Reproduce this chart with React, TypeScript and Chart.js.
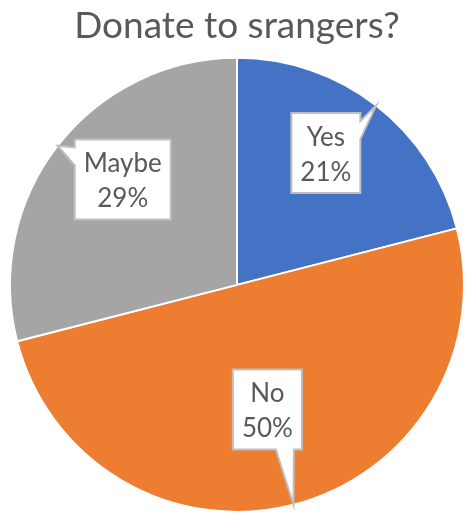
import React, { useEffect, useRef } from "react";
import { Chart, registerables } from "chart.js";

Chart.register(...registerables);

const categories = ["Yes", "No", "Maybe"];
const values = [21, 50, 29];
const percentLabels = ["21%", "50%", "29%"];
const colors = ["#4472C4", "#ED7D31", "#A5A5A5"];
const titleText = "Donate to srangers?";

// callout placement relative to each slice (fraction of radius, angle shift in degrees)
const calloutRadius = [0.7, 0.565, 0.685];
const calloutAngleShift = [-3.8, 0.7, 4.9];

const FONT = "Lato, 'Open Sans', sans-serif";
const LABEL_SIZE = 26;
const TEXT_COLOR = "#595959";

const calloutPlugin = {
  id: "callouts",
  afterDatasetsDraw(chart: any) {
    const ctx = chart.ctx as CanvasRenderingContext2D;
    const meta = chart.getDatasetMeta(0);
    ctx.save();
    ctx.font = `${LABEL_SIZE}px ${FONT}`;
    meta.data.forEach((arc: any, i: number) => {
      const p = arc.getProps(["x", "y", "startAngle", "endAngle", "outerRadius"], true);
      const mid = (p.startAngle + p.endAngle) / 2;
      const tipX = p.x + Math.cos(mid) * p.outerRadius;
      const tipY = p.y + Math.sin(mid) * p.outerRadius;
      const a = mid + (calloutAngleShift[i] * Math.PI) / 180;
      const cx = p.x + Math.cos(a) * p.outerRadius * calloutRadius[i];
      const cy = p.y + Math.sin(a) * p.outerRadius * calloutRadius[i];
      const lines = [categories[i], percentLabels[i]];
      const tw = Math.max(...lines.map((l) => ctx.measureText(l).width));
      const w = tw + 18;
      const h = 80;
      const x0 = cx - w / 2, x1 = cx + w / 2, y0 = cy - h / 2, y1 = cy + h / 2;
      const ndx = (tipX - cx) / (w / 2);
      const ndy = (tipY - cy) / (h / 2);
      let side: string;
      if (Math.abs(ndx) > Math.abs(ndy)) side = ndx > 0 ? "right" : "left";
      else side = ndy > 0 ? "bottom" : "top";
      const BASE = 18;
      const clamp = (v: number, lo: number, hi: number) => Math.max(lo, Math.min(hi, v));
      ctx.beginPath();
      ctx.moveTo(x0, y0);
      if (side === "top") {
        const s = clamp(tipX - BASE / 2, x0 + 8, x1 - 8 - BASE);
        ctx.lineTo(s, y0);
        ctx.lineTo(tipX, tipY);
        ctx.lineTo(s + BASE, y0);
      }
      ctx.lineTo(x1, y0);
      if (side === "right") {
        const s = clamp(tipY - BASE / 2, y0 + 8, y1 - 8 - BASE);
        ctx.lineTo(x1, s);
        ctx.lineTo(tipX, tipY);
        ctx.lineTo(x1, s + BASE);
      }
      ctx.lineTo(x1, y1);
      if (side === "bottom") {
        const s = clamp(tipX - BASE / 2, x0 + 8, x1 - 8 - BASE);
        ctx.lineTo(s + BASE, y1);
        ctx.lineTo(tipX, tipY);
        ctx.lineTo(s, y1);
      }
      ctx.lineTo(x0, y1);
      if (side === "left") {
        const s = clamp(tipY - BASE / 2, y0 + 8, y1 - 8 - BASE);
        ctx.lineTo(x0, s + BASE);
        ctx.lineTo(tipX, tipY);
        ctx.lineTo(x0, s);
      }
      ctx.closePath();
      ctx.fillStyle = "#FFFFFF";
      ctx.fill();
      ctx.lineWidth = 2;
      ctx.strokeStyle = "#BFBFBF";
      ctx.lineJoin = "miter";
      ctx.stroke();
      ctx.fillStyle = TEXT_COLOR;
      ctx.textAlign = "center";
      ctx.textBaseline = "alphabetic";
      ctx.fillText(lines[0], cx, cy - 7);
      ctx.fillText(lines[1], cx, cy + 28);
    });
    ctx.restore();
  },
};

export default function App() {
  const ref = useRef<HTMLCanvasElement | null>(null);
  useEffect(() => {
    if (!ref.current) return;
    const chart = new Chart(ref.current, {
      type: "pie",
      data: {
        labels: categories,
        datasets: [
          {
            data: values,
            backgroundColor: colors,
            borderColor: "#FFFFFF",
            borderWidth: 2,
          },
        ],
      },
      options: {
        responsive: false,
        animation: false,
        devicePixelRatio: 1,
        layout: { padding: { left: 9, right: 1, top: 0, bottom: 1 } },
        plugins: {
          legend: { display: false },
          tooltip: { enabled: false },
          title: {
            display: true,
            text: titleText,
            color: TEXT_COLOR,
            font: { family: FONT, size: 37, weight: "normal", lineHeight: 1.1 },
            padding: { top: 6, bottom: 10 },
          },
        },
      },
      plugins: [calloutPlugin],
    });
    return () => chart.destroy();
  }, []);
  return (
    <canvas
      ref={ref}
      width={466}
      height={514}
      style={{ position: "fixed", left: 0, top: 0, width: 466, height: 514 }}
    />
  );
}
